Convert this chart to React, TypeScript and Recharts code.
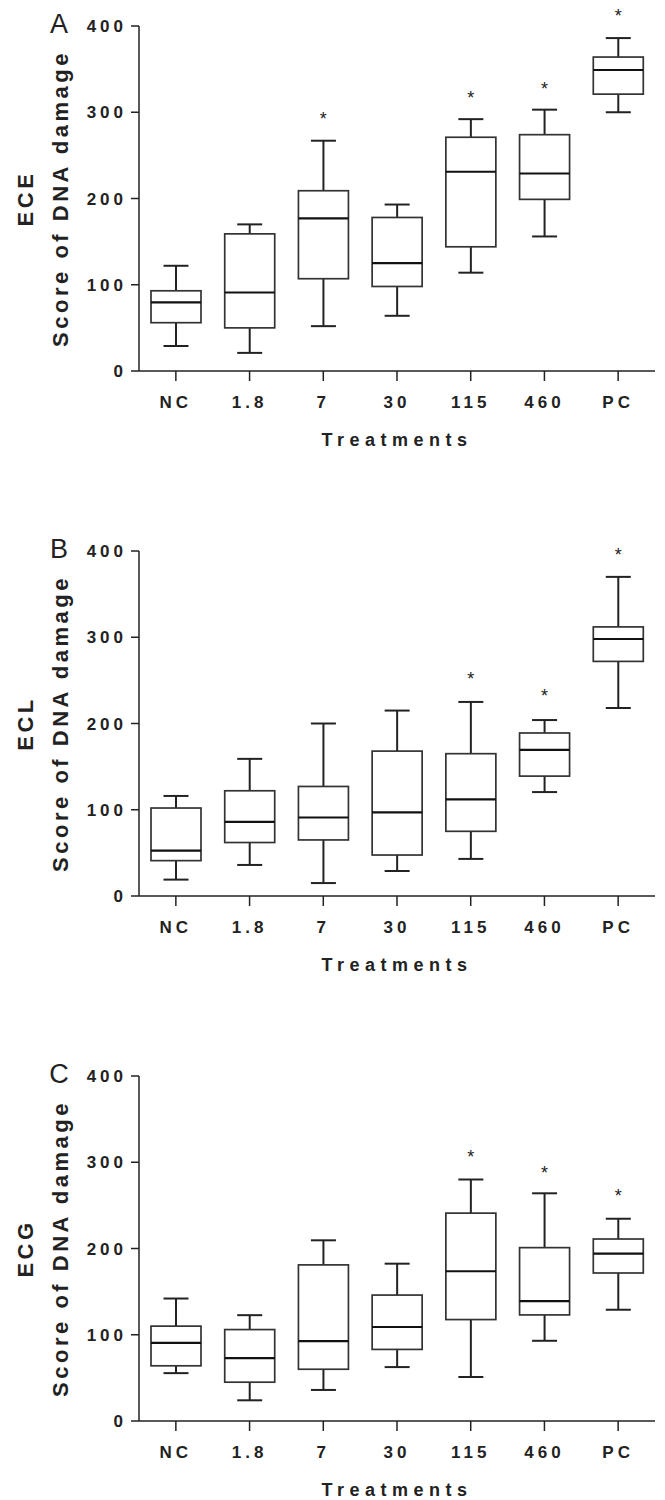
import { Bar, ComposedChart, Label, ReferenceDot, XAxis, YAxis } from "recharts";

const treatments = ["NC", "1.8", "7", "30", "115", "460", "PC"];
const yTicks = [0, 100, 200, 300, 400];

// A - ECE
const eceMin = [29, 21, 52, 64, 114, 156, 300];
const eceQ1 = [56, 50, 107, 98, 144, 199, 321];
const eceMedian = [79.5, 91, 177, 125, 231, 229, 349];
const eceQ3 = [93, 159, 209, 178, 271, 274, 364];
const eceMax = [122, 170, 267, 193, 292, 303, 386];
const eceStars = [null, null, 295, null, 319, 330, 415];

// B - ECL
const eclMin = [19, 36, 15, 29, 43, 120.5, 218];
const eclQ1 = [41, 62, 65, 47.5, 75, 139, 272];
const eclMedian = [52.5, 86, 91, 97, 112, 169.5, 298];
const eclQ3 = [102, 122, 127, 168, 165, 189, 312];
const eclMax = [116, 159, 200, 215, 225, 204, 370];
const eclStars = [null, null, null, null, 255, 235, 398];

// C - ECG
const ecgMin = [55.5, 24, 36, 62.5, 51, 93, 129];
const ecgQ1 = [64, 45, 60, 83, 117.6, 123, 171.6];
const ecgMedian = [90.6, 73, 92.6, 109, 173.6, 139, 194];
const ecgQ3 = [110, 106, 181, 146, 241, 201, 211];
const ecgMax = [142, 122.7, 209.5, 182.4, 280, 264, 234.5];
const ecgStars = [null, null, null, null, 308.6, 290, 264];

const FONT = "'Liberation Sans', Arial, Helvetica, sans-serif";
const INK = "#222";

type Row = {
  name: string;
  min: number;
  q1: number;
  median: number;
  q3: number;
  max: number;
  range: [number, number];
  star: number | null;
};

function makeRows(
  mins: number[],
  q1s: number[],
  medians: number[],
  q3s: number[],
  maxs: number[],
  stars: (number | null)[]
): Row[] {
  return treatments.map((name, i) => ({
    name,
    min: mins[i],
    q1: q1s[i],
    median: medians[i],
    q3: q3s[i],
    max: maxs[i],
    range: [mins[i], maxs[i]],
    star: stars[i],
  }));
}

// whiskers + box, positioned from the bar's [min, max] pixel extent
function BoxShape(props: any) {
  const { x, y, width, height, payload } = props;
  if (!payload || height == null) return <g />;
  const top = Math.min(y, y + height);
  const bottom = Math.max(y, y + height);
  const perUnit = (bottom - top) / (payload.max - payload.min);
  const py = (v: number) => bottom - (v - payload.min) * perUnit;
  const cx = x + width / 2;
  const cap = width / 4;
  const yQ1 = py(payload.q1);
  const yQ3 = py(payload.q3);
  const yMed = py(payload.median);
  return (
    <g>
      <line x1={cx} x2={cx} y1={top} y2={yQ3} stroke={INK} strokeWidth={2} />
      <line x1={cx} x2={cx} y1={yQ1} y2={bottom} stroke={INK} strokeWidth={2} />
      <line x1={cx - cap} x2={cx + cap} y1={top} y2={top} stroke={INK} strokeWidth={2} />
      <line x1={cx - cap} x2={cx + cap} y1={bottom} y2={bottom} stroke={INK} strokeWidth={2} />
      <rect
        x={x}
        y={yQ3}
        width={width}
        height={yQ1 - yQ3}
        fill="#fff"
        stroke="#333"
        strokeWidth={1.7}
      />
      <line x1={x} x2={x + width} y1={yMed} y2={yMed} stroke="#111" strokeWidth={2.2} />
    </g>
  );
}

function StarShape(props: any) {
  const { cx, cy } = props;
  if (!isFinite(cx) || !isFinite(cy)) return <g />;
  return (
    <text x={cx} y={cy + 8.5} textAnchor="middle" fontSize={18} fontFamily={FONT} fill={INK}>
      *
    </text>
  );
}

function Panel({
  letter,
  tissue,
  rows,
  height,
}: {
  letter: string;
  tissue: string;
  rows: Row[];
  height: number;
}) {
  const tickStyle = {
    fontSize: 17,
    fontWeight: 700,
    fontFamily: FONT,
    fill: INK,
    letterSpacing: 4,
  };
  return (
    <ComposedChart
      width={665}
      height={height}
      data={rows}
      margin={{ top: 26, right: 10, left: 79, bottom: height - 26 - 345 - 30 }}
    >
      <XAxis
        dataKey="name"
        interval={0}
        height={30}
        tickSize={10}
        tickMargin={15}
        tick={tickStyle}
        axisLine={{ stroke: INK, strokeWidth: 1.5 }}
        tickLine={{ stroke: INK, strokeWidth: 1.5 }}
      >
        <Label
          value="Treatments"
          position="bottom"
          offset={32}
          style={{
            fontSize: 18,
            fontWeight: 700,
            fontFamily: FONT,
            fill: INK,
            letterSpacing: 5.5,
          }}
        />
      </XAxis>
      <YAxis
        domain={[0, 400]}
        ticks={yTicks}
        width={60}
        tickSize={8}
        tickMargin={4}
        tick={tickStyle}
        axisLine={{ stroke: INK, strokeWidth: 1.5 }}
        tickLine={{ stroke: INK, strokeWidth: 1.5 }}
      >
        <Label
          content={(p: any) => {
            const vb = p.viewBox || {};
            const mid = vb.y + vb.height / 2;
            const title = {
              fontSize: 22,
              fontWeight: 700,
              fontFamily: FONT,
              fill: INK,
              letterSpacing: 3.5,
            };
            return (
              <g>
                <text
                  x={59}
                  y={vb.y + 7}
                  textAnchor="middle"
                  fontSize={27}
                  fontFamily={FONT}
                  fill={INK}
                >
                  {letter}
                </text>
                <text
                  transform={`translate(25.5,${mid}) rotate(-90)`}
                  textAnchor="middle"
                  dominantBaseline="central"
                  style={title}
                >
                  {tissue}
                </text>
                <text
                  transform={`translate(60,${mid}) rotate(-90)`}
                  textAnchor="middle"
                  dominantBaseline="central"
                  style={title}
                >
                  Score of DNA damage
                </text>
              </g>
            );
          }}
        />
      </YAxis>
      <Bar dataKey="range" barSize={50} shape={BoxShape} isAnimationActive={false} />
      {rows
        .filter((r) => r.star != null)
        .map((r) => (
          <ReferenceDot
            key={r.name}
            x={r.name}
            y={r.star as number}
            ifOverflow="visible"
            shape={StarShape}
          />
        ))}
    </ComposedChart>
  );
}

const eceRows = makeRows(eceMin, eceQ1, eceMedian, eceQ3, eceMax, eceStars);
const eclRows = makeRows(eclMin, eclQ1, eclMedian, eclQ3, eclMax, eclStars);
const ecgRows = makeRows(ecgMin, ecgQ1, ecgMedian, ecgQ3, ecgMax, ecgStars);

export default function App() {
  return (
    <div style={{ width: 665, background: "#fff" }}>
      <style>{`body{margin:0;background:#fff;}`}</style>
      <Panel letter="A" tissue="ECE" rows={eceRows} height={525} />
      <Panel letter="B" tissue="ECL" rows={eclRows} height={525} />
      <Panel letter="C" tissue="ECG" rows={ecgRows} height={450} />
    </div>
  );
}
